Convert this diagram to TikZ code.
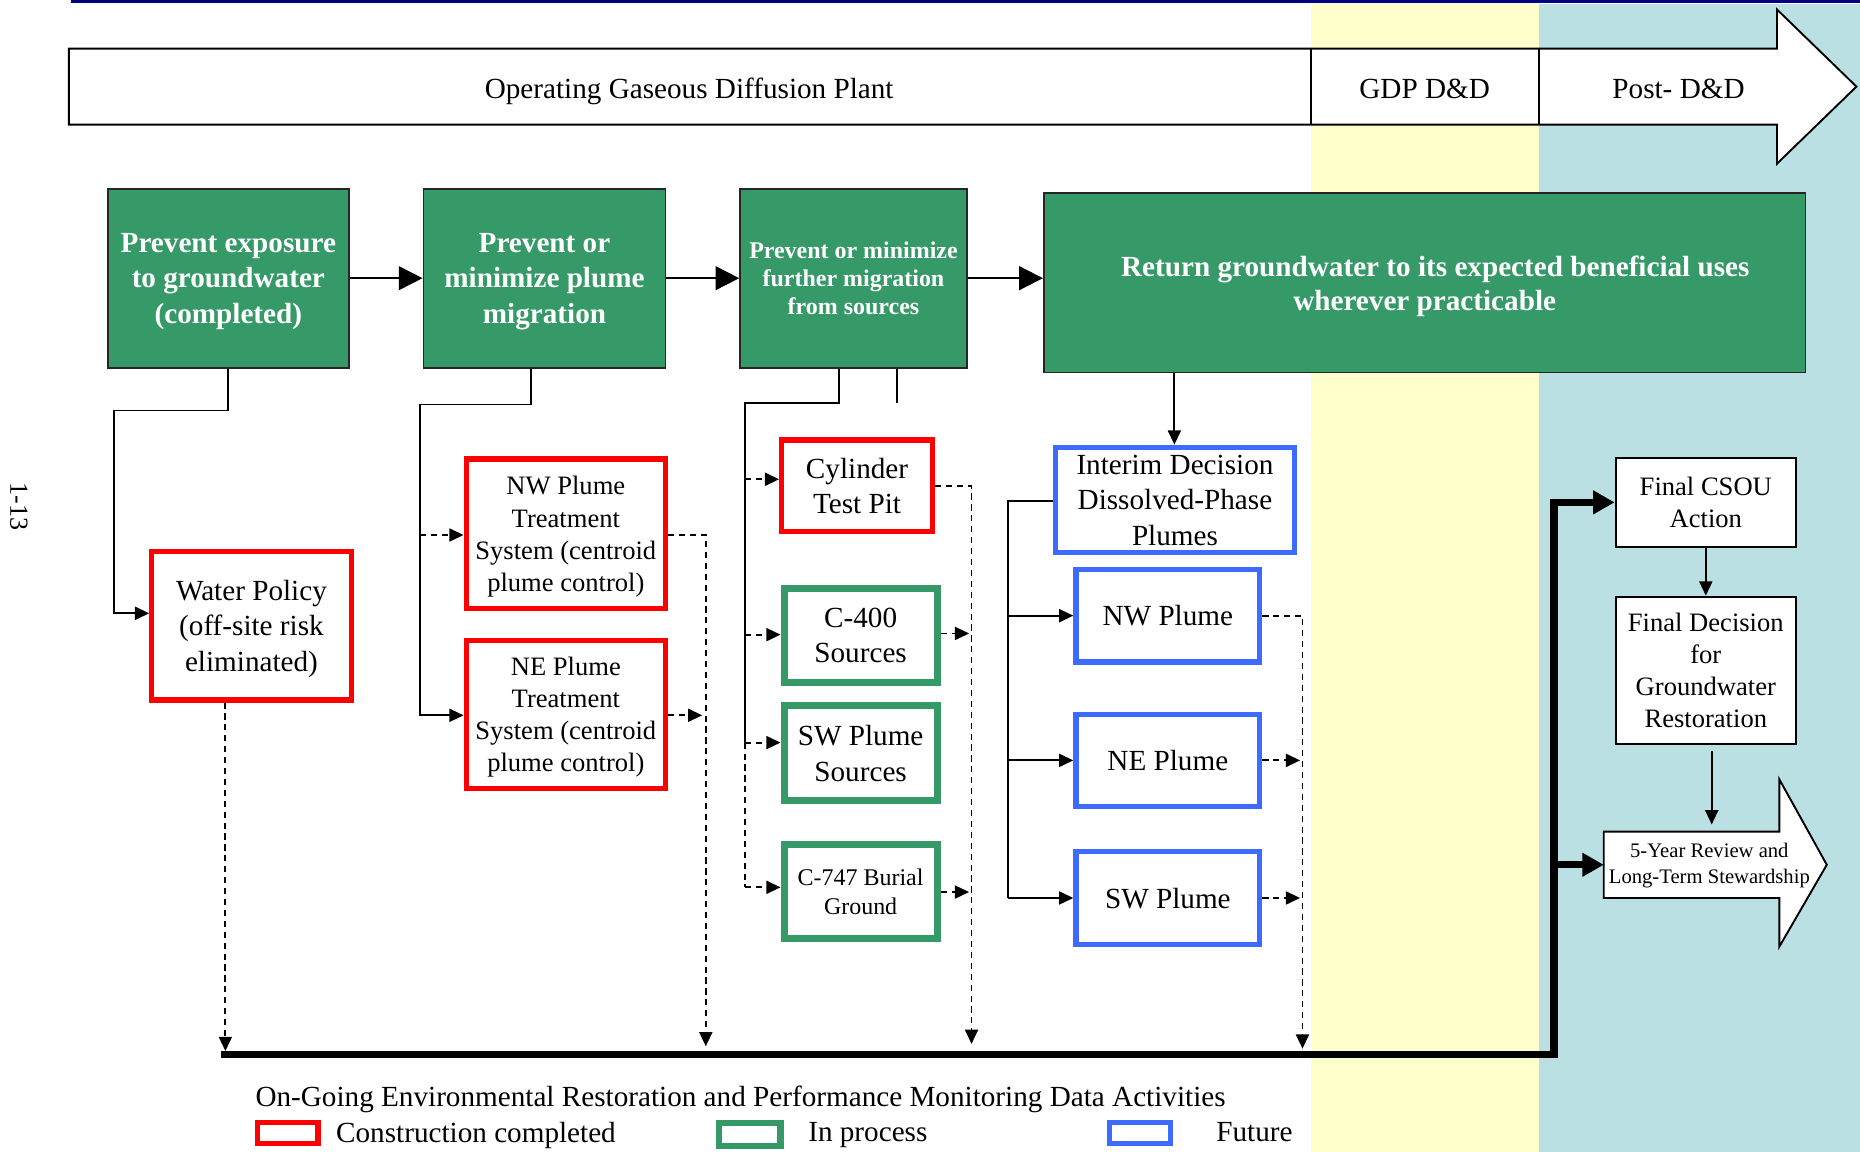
\documentclass[tikz,border=0pt]{standalone}
\usepackage{fontspec}
\setmainfont{Liberation Serif}
\usetikzlibrary{arrows.meta}
\definecolor{cred}{RGB}{255,0,0}
\definecolor{cgreen}{RGB}{53,154,104}
\definecolor{cblue}{RGB}{61,107,255}
\definecolor{cyel}{RGB}{255,255,204}
\definecolor{clblue}{RGB}{187,224,227}
\definecolor{cnavy}{RGB}{0,0,128}
\newcommand\myfs[2]{\fontsize{#1}{#2}\selectfont}
\begin{document}
\begin{tikzpicture}[x=0.5pt,y=-0.5pt,
  txt/.style={inner sep=0pt, font=\myfs{12.3}{15}},
  gbox/.style={draw=black!85, line width=0.8pt, fill=cgreen, text=white, font=\bfseries\myfs{12.3}{15}, align=center, inner sep=0pt, text depth=-4pt},
  cbox/.style={draw, align=center, inner sep=0pt, fill=white, line width=2.2pt, font=\myfs{12.3}{15}, text depth=-1pt},
  redbox/.style={cbox, draw=cred},
  grnbox/.style={cbox, draw=cgreen, line width=3pt},
  blubox/.style={cbox, draw=cblue},
  wbox/.style={cbox, draw=black, line width=0.9pt, font=\myfs{11.2}{13.5}},
  conn/.style={line width=0.8pt},
  arr/.style={conn, -{Triangle[length=6pt,width=5.5pt]}},
  dline/.style={conn, dash pattern=on 2.6pt off 2pt},
  darr/.style={arr, dash pattern=on 2.6pt off 2pt},
  bigarr/.style={conn, -{Triangle[length=10pt,width=10pt]}},
  busline/.style={line width=3pt},
  busarr/.style={busline, -{Triangle[length=9pt,width=9.5pt]}}
]
\useasboundingbox (0,0) rectangle (1568,971);
% background bands
\fill[cyel] (1105,3) rectangle (1297,971);
\fill[clblue] (1297,3) rectangle (1568,971);
\draw[cnavy, line width=1.3pt] (60,1) -- (1568,1);

% timeline arrow
\draw[fill=white, line width=0.8pt] (58,41) -- (1498,41) -- (1498,8) -- (1565,73) -- (1498,138) -- (1498,105) -- (58,105) -- cycle;
\draw[line width=0.8pt] (1105,41) -- (1105,105) (1297,41) -- (1297,105);
\node[txt, yshift=-1.5pt] (ogdp) at (581,74) {Operating Gaseous Diffusion Plant};
\node[txt, yshift=-0.5pt] (gdp) at (1201,74) {GDP D\&D};
\node[txt, yshift=-0.5pt] (post) at (1415,74) {Post- D\&D};

% green objective boxes
\node[gbox, minimum width=101.5pt, minimum height=75.5pt] (g1) at (192.5,234.5) {Prevent exposure\\to groundwater\\(completed)};
\node[gbox, minimum width=102pt, minimum height=75.5pt] (g2) at (459,234.5) {Prevent or\\minimize plume\\migration};
\node[gbox, minimum width=95.5pt, minimum height=75.5pt, font=\bfseries\myfs{10.1}{12}] (g3) at (719.5,234.5) {Prevent or minimize\\further migration\\from sources};
\node[gbox, minimum width=321pt, minimum height=75.5pt, font=\bfseries\myfs{12.3}{14.5}, text depth=-2pt] (g4) at (1201,238.5) {\hspace*{9pt}Return groundwater to its expected beneficial uses\\wherever practicable};

\draw[bigarr] (g1) -- (g2);
\draw[bigarr] (g2) -- (g3);
\draw[bigarr] (g3.east) -- (g3.east -| g4.west);

% action boxes
\node[redbox, minimum width=84pt, minimum height=62.5pt, text depth=-3pt] (wp) at (212,527.5) {Water Policy\\(off-site risk\\eliminated)};
\node[redbox, minimum width=84pt, minimum height=63pt, font=\myfs{11.2}{13.5}] (nwt) at (477,450) {NW Plume\\Treatment\\System (centroid\\plume control)};
\node[redbox, minimum width=84pt, minimum height=62.5pt, font=\myfs{11.2}{13.5}] (net) at (477,602.5) {NE Plume\\Treatment\\System (centroid\\plume control)};
\node[redbox, minimum width=63.5pt, minimum height=38.5pt, text depth=-2.5pt] (ctp) at (722.5,409.5) {Cylinder\\Test Pit};
\node[grnbox, minimum width=64.5pt, minimum height=39.5pt, text depth=-2.5pt] (c400) at (725.5,535.5) {C-400\\Sources};
\node[grnbox, minimum width=64.5pt, minimum height=40pt, text depth=-2.5pt] (sws) at (725.5,635) {SW Plume\\Sources};
\node[grnbox, minimum width=64.5pt, minimum height=39.5pt, font=\myfs{10.1}{12}] (c747) at (725.5,751.5) {C-747 Burial\\Ground};
\node[blubox, minimum width=100.5pt, minimum height=44.5pt, text depth=-3pt] (idp) at (990.5,421.5) {Interim Decision\\Dissolved-Phase\\Plumes};
\node[blubox, minimum width=77.5pt, minimum height=39pt] (nwp) at (984.5,519) {NW Plume};
\node[blubox, minimum width=77.5pt, minimum height=39pt] (nep) at (984.5,641) {NE Plume};
\node[blubox, minimum width=77.5pt, minimum height=39pt] (swp) at (984.5,757) {SW Plume};
\node[wbox, minimum width=76pt, minimum height=37.5pt] (fca) at (1438,423.5) {Final CSOU\\Action};
\node[wbox, minimum width=76pt, minimum height=62pt] (fdg) at (1438,565) {Final Decision\\for\\Groundwater\\Restoration};

% 5-year arrow
\draw[fill=white, line width=0.8pt] (1352,701) -- (1500,701) -- (1500,657) -- (1540,729) -- (1500,798) -- (1500,757) -- (1352,757) -- cycle;
\node[inner sep=0pt, align=center, font=\myfs{8.7}{11}, text depth=-1.5pt] (fyr) at (1441,728) {5-Year Review and\\Long-Term Stewardship};
\coordinate (fyl) at (1352,729);

% bus
\coordinate (busl) at (186,889);
\coordinate (busc) at (1310,889);
\draw[busarr] (busl) -- (busc) -- (busc |- fca.west) -- (fca.west);
\draw[busarr] (1310,729) -- (fyl);

% connectors column 1
\draw[arr] (g1.south) |- (96,346) -- (96,517) -- (wp.west |- 0,517);
\draw[darr] (wp.south -| 190,0) -- (190,886);

% column 2
\draw[arr] (g2.south -| 448,0) |- (354,341) -- (354,603) -- (net.west |- 0,603);
\draw[darr] (354,451) -- (nwt.west |- 0,451);
\draw[darr] (nwt.east |- 0,451) -| (595,882);
\draw[darr] (net.east |- 0,603) -- (592,603);

% column 3
\draw[conn] (g3.south -| 707,0) |- (628,340) -- (628,626);
\draw[dline] (628,626) -- (628,748);
\draw[conn] (g3.south -| 756,0) -- (756,340);
\draw[darr] (628,404) -- (ctp.west |- 0,404);
\draw[darr] (628,535) -- (c400.west |- 0,535);
\draw[darr] (628,626) -- (sws.west |- 0,626);
\draw[darr] (628,748) -- (c747.west |- 0,748);
\draw[darr] (ctp.east |- 0,410) -| (819,880);
\draw[darr] (c400.east |- 0,534) -- (817,534);
\draw[darr] (c747.east |- 0,752) -- (817,752);

% column 4
\draw[arr] (g4.south -| 990,0) -- (idp.north -| 990,0);
\draw[conn] (idp.west |- 0,422) -| (850,757);
\draw[arr] (850,519) -- (nwp.west);
\draw[arr] (850,641) -- (nep.west);
\draw[arr] (850,757) -- (swp.west);
\draw[darr] (nwp.east) -| (1098,884);
\draw[darr] (nep.east) -- (1096,641);
\draw[darr] (swp.east) -- (1096,757);

% final column
\draw[arr] (fca) -- (fdg);
\draw[arr] (fdg.south -| 1443,0) ++(0,5) -- (1443,695);

% legend
\node[txt, anchor=west, yshift=-1.5pt] (leg) at (215,924) {On-Going Environmental Restoration and Performance Monitoring Data Activities};
\node[draw=cred, line width=2.2pt, minimum width=25.5pt, minimum height=9pt, inner sep=0pt] (lr) at (242.5,955) {};
\node[txt, anchor=west, yshift=-1.5pt] (lrt) at (283,954) {Construction completed};
\node[draw=cgreen, line width=2.6pt, minimum width=26pt, minimum height=9.5pt, inner sep=0pt] (lg) at (632,956.5) {};
\node[txt, anchor=west, yshift=-1.5pt] (lgt) at (681,954) {In process};
\node[draw=cblue, line width=2.2pt, minimum width=26pt, minimum height=9pt, inner sep=0pt] (lb) at (961,955) {};
\node[txt, anchor=west] (lbt) at (1025,954) {Future};

% page number
\node[rotate=-90, inner sep=0pt, font=\myfs{11}{13}] (pg) at (16,427) {1-13};
\end{tikzpicture}
\end{document}
